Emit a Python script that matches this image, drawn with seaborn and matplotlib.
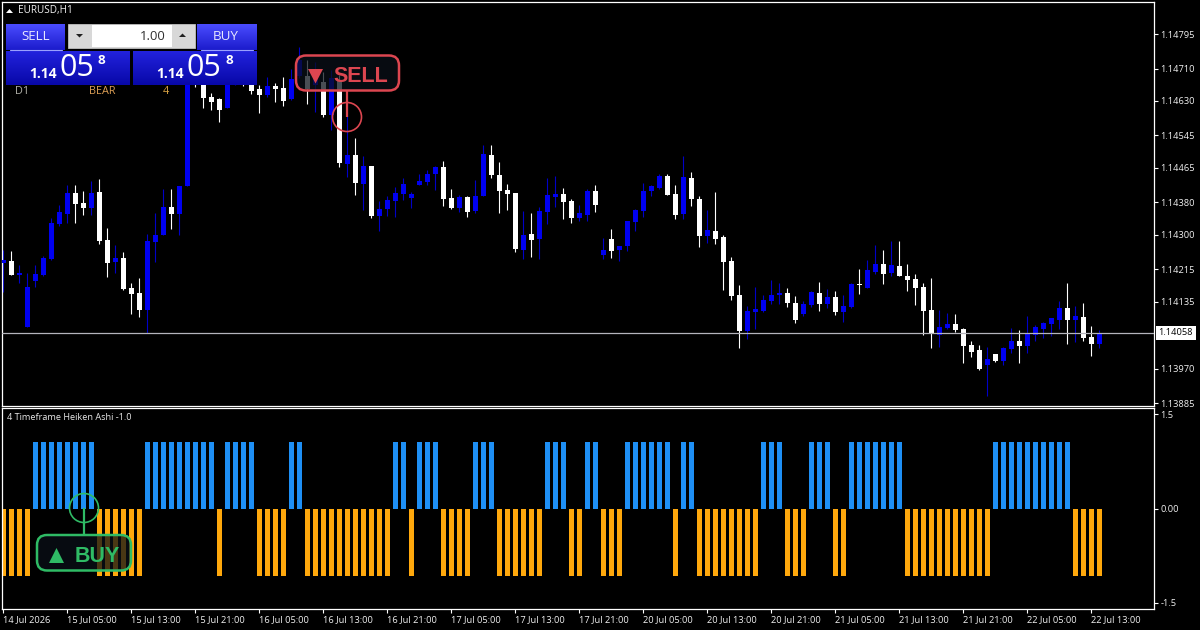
import numpy as np
import pandas as pd
import matplotlib
matplotlib.use("Agg")
import matplotlib.pyplot as plt
from matplotlib.patches import FancyBboxPatch, Circle, Rectangle, Polygon
import seaborn as sns

# Prices are quoted in points (1e-5)
open_pts = [114231,114236,114201,114073,114186,114201,114241,114327,114351,114403,
114379,114366,114406,114287,114233,114243,114169,114157,114115,114282,
114300,114369,114351,114421,114682,114670,114640,114635,114613,114677,
114694,114677,114660,114645,114667,114662,114635,114692,114692,114670,
114677,114596,114682,114475,114497,114425,114470,114347,114364,114384,
114401,114391,114423,114430,114450,114467,114391,114366,114393,114359,
114396,114497,114448,114411,114403,114263,114302,114290,114356,114393,
114401,114384,114342,114349,114408,114250,114290,114263,114273,114332,
114359,114408,114416,114445,114401,114351,114440,114388,114297,114310,
114295,114236,114152,114063,114110,114112,114137,114152,114157,114132,
114105,114127,114157,114130,114147,114110,114122,114179,114169,114208,
114228,114206,114223,114199,114191,114171,114115,114053,114070,114080,
114068,114029,114016,113979,114006,113989,114019,114038,114026,114053,
114068,114080,114090,114120,114090,114097,114048,114031]
high_pts = [114263,114260,114226,114206,114226,114248,114342,114374,114423,114423,
114408,114433,114438,114317,114275,114258,114181,114194,114302,114354,
114413,114413,114421,114694,114690,114682,114650,114638,114687,114707,
114707,114687,114670,114689,114675,114689,114709,114763,114731,114726,
114702,114707,114694,114645,114539,114495,114470,114384,114396,114418,
114440,114406,114450,114460,114470,114482,114413,114398,114396,114435,
114522,114522,114480,114425,114403,114359,114354,114369,114440,114445,
114416,114388,114374,114413,114423,114292,114314,114273,114334,114364,
114428,114423,114450,114450,114423,114495,114455,114396,114361,114406,
114300,114246,114176,114125,114171,114152,114189,114181,114169,114149,
114137,114162,114184,114167,114162,114152,114181,114216,114238,114275,
114263,114285,114285,114228,114203,114181,114194,114115,114107,114105,
114070,114038,114029,114024,114006,114024,114070,114065,114100,114078,
114085,114095,114137,114181,114125,114132,114075,114065]
low_pts = [114159,114201,114181,114073,114171,114199,114238,114322,114329,114329,
114349,114349,114278,114196,114206,114164,114105,114097,114058,114233,
114300,114314,114300,114421,114665,114613,114608,114578,114613,114670,
114667,114647,114601,114640,114628,114618,114633,114687,114623,114603,
114591,114559,114467,114443,114398,114361,114342,114310,114347,114344,
114386,114366,114423,114423,114411,114371,114364,114356,114344,114354,
114396,114440,114354,114361,114258,114241,114246,114241,114327,114369,
114339,114329,114334,114334,114356,114241,114243,114236,114260,114310,
114344,114396,114413,114398,114339,114339,114371,114270,114280,114278,
114164,114139,114021,114043,114068,114110,114130,114130,114122,114083,
114100,114122,114112,114120,114102,114085,114120,114154,114169,114203,
114179,114199,114199,114162,114127,114053,114021,114024,114068,114060,
113984,113999,113967,113903,113986,113979,114009,113984,114009,114038,
114046,114051,114068,114031,114036,114038,114001,114021]
close_pts = [114238,114201,114206,114171,114203,114243,114329,114356,114403,114376,
114366,114403,114285,114231,114243,114167,114154,114115,114285,114300,
114369,114351,114421,114682,114670,114638,114628,114608,114677,114694,
114670,114655,114645,114667,114660,114630,114684,114731,114660,114702,
114596,114687,114477,114497,114428,114470,114347,114364,114386,114403,
114425,114401,114433,114450,114467,114388,114366,114393,114356,114396,
114499,114448,114408,114401,114265,114300,114287,114359,114398,114401,
114381,114342,114354,114408,114374,114263,114260,114273,114334,114361,
114408,114421,114445,114398,114349,114443,114388,114297,114312,114290,
114233,114149,114063,114112,114117,114139,114152,114157,114132,114090,
114130,114159,114130,114147,114110,114125,114179,114176,114213,114228,
114203,114226,114199,114189,114169,114112,114056,114073,114080,114065,
114026,114011,113969,113994,113989,114021,114038,114026,114056,114073,
114083,114095,114120,114090,114100,114046,114031,114058]

heiken_values = [-1,-1,-1,-1, 1,1,1,1,1,1,1,1, -1,-1,-1,-1,-1,-1, 1,1,1,1,1,1,1,1,1, -1,
1,1,1,1, -1,-1,-1,-1, 1,1, -1,-1,-1,-1,-1,-1,-1,-1,-1,-1,-1, 1,1, -1, 1,1,1,
-1,-1,-1,-1, 1,1,1, -1,-1,-1,-1,-1,-1, 1,1,1, -1,-1, 1,1, -1,-1,-1,
1,1,1,1,1,1, -1, 1,1, -1,-1,-1,-1,-1,-1,-1,-1, 1,1,1, -1,-1,-1, 1,1,1, -1,-1,
1,1,1,1,1,1,1, -1,-1,-1,-1,-1,-1,-1,-1,-1,-1,-1, 1,1,1,1,1,1,1,1,1,1, -1,-1,-1,-1]

price_ticks = [1.14795,1.14710,1.14630,1.14545,1.14465,1.14380,1.14300,1.14215,1.14135,1.13970,1.13885]
last_price = 1.14058
time_labels = ["14 Jul 2026","15 Jul 05:00","15 Jul 13:00","15 Jul 21:00","16 Jul 05:00","16 Jul 13:00",
"16 Jul 21:00","17 Jul 05:00","17 Jul 13:00","17 Jul 21:00","20 Jul 05:00","20 Jul 13:00",
"20 Jul 21:00","21 Jul 05:00","21 Jul 13:00","21 Jul 21:00","22 Jul 05:00","22 Jul 13:00"]

sns.set_theme(style="dark", rc={"axes.facecolor": "black", "figure.facecolor": "black",
                                "savefig.facecolor": "black"})
plt.rcParams["font.family"] = ["Open Sans", "DejaVu Sans"]
W, H = 1200, 630
fig = plt.figure(figsize=(W/100, H/100), dpi=100)
def axes_px(l, t, r, b):
    return fig.add_axes([l/W, 1-b/H, (r-l)/W, (b-t)/H])
ax = axes_px(2, 2, 1154, 406)
ax2 = axes_px(2, 408, 1154, 609)

# ---- candles
df = pd.DataFrame({"o": open_pts, "h": high_pts, "l": low_pts, "c": close_pts}) / 1e5
df["bar"] = np.arange(len(df))
up = df.c >= df.o
BLUE, WHITE = "#0000f0", "#ffffff"
ax.vlines(df.bar[up], df.l[up], df.h[up], color="#0000c8", lw=0.8, zorder=2)
ax.vlines(df.bar[~up], df.l[~up], df.h[~up], color=WHITE, lw=0.8, zorder=2)
for mask, col in ((up, BLUE), (~up, WHITE)):
    body = (df.c - df.o).abs()[mask].clip(lower=1.2e-5)
    ax.bar(df.bar[mask], body, bottom=np.minimum(df.o, df.c)[mask], width=0.62, color=col, lw=0, zorder=3)
ax.axhline(last_price, color="#b4b4bc", lw=0.9, zorder=4)

# ---- indicator
ind = pd.DataFrame({"bar": np.arange(len(heiken_values)), "value": heiken_values})
ind["side"] = np.where(ind.value > 0, "up", "down")
sns.barplot(data=ind, x="bar", y="value", hue="side", palette={"up": "#1e8ff5", "down": "#ffa80c"},
            native_scale=True, dodge=False, width=0.62, saturation=1, errorbar=None,
            legend=False, linewidth=0, ax=ax2)
ax2.set_xlabel(""); ax2.set_ylabel("")

# ---- axes
xlim = (-0.16, 143.84)
for a in (ax, ax2):
    a.set_xlim(*xlim)
    a.grid(False)
    for s in a.spines.values():
        s.set_color("white"); s.set_linewidth(0.9); s.set_visible(True)
ax.set_ylim(1.13878, 1.14874)
ax2.set_ylim(-1.5, 1.5)
ax.set_xticks([])
ax.yaxis.tick_right()
ax.set_yticks(price_ticks, [f"{p:.5f}" for p in price_ticks])
ax2.yaxis.tick_right()
ax2.set_yticks([1.41, 0, -1.41], ["1.5", "0.00", "-1.5"])
ax2.set_xticks(np.arange(len(time_labels))*8, time_labels)
for lab in ax2.get_xticklabels():
    lab.set_ha("left")
TICK = dict(colors="white", labelsize=6.7, length=2.6, width=0.8, pad=2.2, direction="out", labelcolor="#f0f0f0")
ax.tick_params(axis="y", **TICK)
ax2.tick_params(axis="y", **TICK)
ax2.tick_params(axis="x", **{**TICK, "pad": 1.8, "bottom": True})
ax.text(1.004, last_price, "1.14058", transform=ax.get_yaxis_transform(), color="black", fontsize=6.7,
        va="center", ha="left", clip_on=False,
        bbox=dict(boxstyle="square,pad=0.3", fc="white", ec="white", lw=0), zorder=8)

# ---- overlay in pixel coordinates
ov = fig.add_axes([0, 0, 1, 1], facecolor="none")
def vgrad(x0, x1, y0, y1, top, bottom):
    c0, c1 = matplotlib.colors.to_rgb(top), matplotlib.colors.to_rgb(bottom)
    g = np.linspace(0, 1, 32)[:, None, None]
    img = np.array(c0)[None, None, :]*(1-g) + np.array(c1)[None, None, :]*g
    ov.imshow(img, extent=(x0, x1, y1, y0), aspect="auto", zorder=5, interpolation="bilinear")

vgrad(6, 65, 24, 50, "#4a4cff", "#1c1ccc")
vgrad(197, 257, 24, 50, "#4a4cff", "#1c1ccc")
vgrad(6, 130, 51, 85, "#2222dd", "#0808a8")
vgrad(133, 257, 51, 85, "#2222dd", "#0808a8")
ov.plot([10, 62], [50, 50], color="#9aa0ff", lw=0.8, zorder=6)
ov.plot([201, 253], [50, 50], color="#9aa0ff", lw=0.8, zorder=6)
ov.add_patch(Rectangle((68, 24), 127, 24, fc="#d8d8d8", ec="#c0c0c0", lw=0.6, zorder=5))
ov.add_patch(Rectangle((92, 25), 80, 22, fc="white", ec="none", zorder=6))
ov.add_patch(Polygon([[76, 34], [83, 34], [79.5, 37.5]], fc="#202020", ec="none", zorder=7))
ov.add_patch(Polygon([[179, 37], [186, 37], [182.5, 33.5]], fc="#202020", ec="none", zorder=7))
ov.add_patch(Polygon([[6, 13], [13, 13], [9.5, 9]], fc="white", ec="none", zorder=7))

def t(x, y, s, color="white", size=7, weight="normal", ha="left", va="center", family=None):
    ov.text(x, y, s, color=color, fontsize=size, fontweight=weight, ha=ha, va=va, zorder=9,
            family=family if family else plt.rcParams["font.family"])

t(18, 11, "EURUSD,H1", "#f0f0f0", 7.2)
t(35.5, 37, "SELL", "#e8e8ff", 9.6, ha="center")
t(226, 37, "BUY", "#e8e8ff", 9.6, ha="center")
t(166, 36, "1.00", "#303030", 9.4, ha="right")
for dx in (0, 127):
    t(29+dx, 74, "1.14", "white", 10, "bold")
    t(59.5+dx, 67.5, "05", "white", 22)
    t(98+dx, 60, "8", "white", 9.6, "bold")
t(15, 92, "D1", "#b0b0a8", 7.8)
t(89, 92, "BEAR", "#dc9e54", 7.8)
t(163, 92, "4", "#dca444", 7.8)
t(7, 418, "4 Timeframe Heiken Ashi -1.0", "#e8e8e8", 6.6)

# signal callouts
RED, GREEN = "#dc4650", "#2fbb65"
def callout(x0, y0, x1, y1, cx, cy, line_to, col, face):
    ov.add_patch(FancyBboxPatch((x0, y0), x1-x0, y1-y0, boxstyle="round,pad=0,rounding_size=10",
                                fc=matplotlib.colors.to_rgba(face, 0.74), ec=col, lw=1.8, zorder=7))
    ov.plot([cx, cx], line_to, color=col, lw=1.6, zorder=7, solid_capstyle="butt")
    ov.add_patch(Circle((cx, cy), 14.5, fc="none", ec=col, lw=1.2, zorder=7))
callout(296, 55.5, 399, 90.5, 347, 117, (91, 117), RED, "#0a1018")
callout(37, 535, 131, 570.5, 84, 508, (534, 508), GREEN, "#0a1018")
ov.add_patch(Polygon([[308, 69], [323, 69], [315.5, 83.5]], fc=RED, ec="none", zorder=8))
t(333, 76.5, "SELL", RED, 15.5, "bold", family="Liberation Sans")
ov.add_patch(Polygon([[49, 563], [64, 563], [56.5, 548]], fc=GREEN, ec="none", zorder=8))
t(75, 556, "BUY", GREEN, 15.5, "bold", family="Liberation Sans")

ov.set_xlim(0, W); ov.set_ylim(H, 0); ov.axis("off")
fig.savefig("out.png", dpi=100)
